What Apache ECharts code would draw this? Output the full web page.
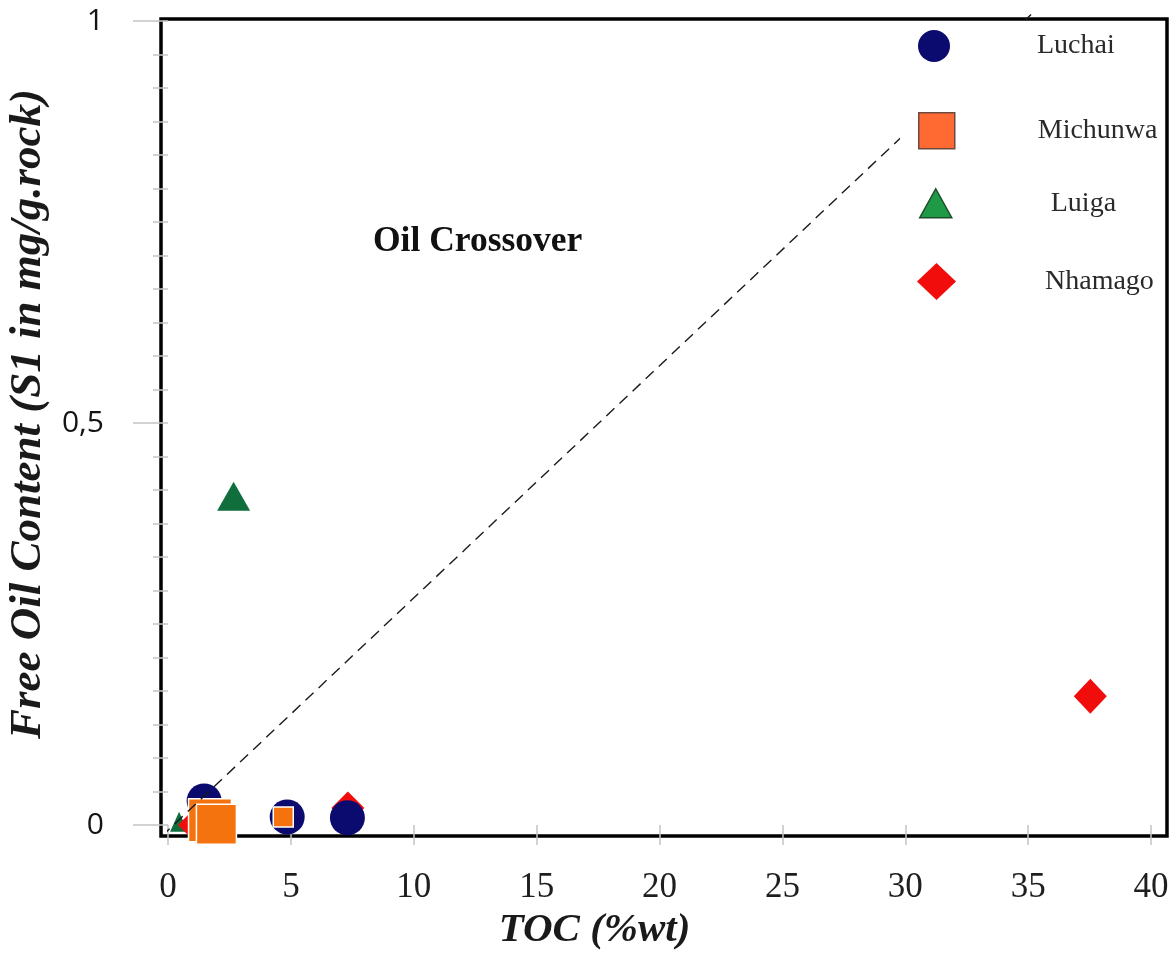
<!DOCTYPE html>
<html>
<head>
<meta charset="utf-8">
<script src="https://cdn.jsdelivr.net/npm/echarts@6/dist/echarts.min.js"></script>
<style>
html,body{margin:0;padding:0;background:#fff;}
#chart{width:1171px;height:960px;}
</style>
</head>
<body>
<div id="chart"></div>
<script>
// ---- data (TOC %wt, S1 mg/g rock) ----
const xTickValues = [0, 5, 10, 15, 20, 25, 30, 35, 40];
const yTickLabels = ['0', '0,5', '1'];
const luchai   = [[1.47, 0.030], [4.85, 0.010], [7.30, 0.009]];
const michunwa = [[1.71, 0.006], [1.97, 0.001], [4.69, 0.010]];
const luiga    = [[0.45, 0.004], [2.67, 0.409]];
const nhamago  = [[1.14, 0.000], [7.32, 0.021], [37.53, 0.160]];
const crossoverLine = [[-0.26, -0.014], [35.12, 1.008]];
const seriesNames = ['Luchai', 'Michunwa', 'Luiga', 'Nhamago'];

// ---- styles ----
const luchaiSizes = [35, 35, 35];
const michunwaSizes = [43, 40, 20];
const luigaSizes = [[18, 20], [33, 29]];
const nhamagoSizes = [36, 33, [33, 35]];

const chart = echarts.init(document.getElementById('chart'), null, {renderer: 'canvas'});

const tickGray = '#c4c4c4';
const serif = 'Liberation Serif';

function legendFor(name, icon, w, h, left, top, pad, textPad, itemStyle, bg) {
  return {
    orient: 'vertical', left: left, top: top, padding: pad,
    backgroundColor: bg ? '#fff' : 'transparent',
    itemWidth: w, itemHeight: h, selectedMode: false, z: 20,
    data: [{name: name, icon: icon, itemStyle: itemStyle}],
    textStyle: {fontFamily: serif, fontSize: 28, color: '#2a2a2a', padding: [0, 0, 0, textPad]}
  };
}

const option = {
  animation: false,
  backgroundColor: '#ffffff',
  title: {
    text: 'Oil Crossover', left: 373, top: 224, padding: 0,
    textStyle: {fontFamily: serif, fontWeight: 'bold', fontSize: 35.5, color: '#111'}
  },
  legend: [
    legendFor(seriesNames[0], 'circle', 32, 32, 900, 22, [8, 10, 8, 18], 82,
      {color: '#0b0b6f', borderWidth: 0}, true),
    legendFor(seriesNames[1], 'rect', 36, 36, 900, 70, [42, 0, 8, 18], 78,
      {color: '#ff6a33', borderColor: '#6e4a3e', borderWidth: 1.5}, true),
    legendFor(seriesNames[2], 'triangle', 32, 29, 901, 180, [8, 0, 8, 18], 94,
      {color: '#1e9a46', borderColor: '#1d4d2a', borderWidth: 1.5}, false),
    legendFor(seriesNames[3], 'diamond', 39, 37, 899, 255, [8, 0, 8, 18], 84,
      {color: '#f20d0d', borderWidth: 0}, false)
  ],
  grid: [
    {left: 161, top: 19, right: 4, bottom: 124, show: true, borderColor: '#000',
     borderWidth: 3.5, backgroundColor: 'transparent', outerBoundsMode: 'none', containLabel: false},
    {left: 168, top: 21, right: 20, bottom: 135, show: false, outerBoundsMode: 'none', containLabel: false}
  ],
  xAxis: [
    {gridIndex: 0, type: 'value', min: 0, max: 1, show: false},
    {gridIndex: 1, type: 'value', min: xTickValues[0], max: xTickValues[xTickValues.length - 1],
     interval: xTickValues[1] - xTickValues[0], position: 'bottom', offset: 12,
     axisLine: {show: false},
     axisTick: {show: true, inside: false, length: 20, lineStyle: {color: tickGray, width: 1.5}},
     splitLine: {show: false},
     axisLabel: {margin: 33, fontFamily: serif, fontSize: 35, color: '#1e1e1e'},
     name: 'TOC (%wt)', nameLocation: 'middle', nameGap: 65,
     nameTextStyle: {fontFamily: serif, fontSize: 41, fontWeight: 'bold', fontStyle: 'italic',
       color: '#1a1a1a', padding: [0, 130, 0, 0]}
    }
  ],
  yAxis: [
    {gridIndex: 0, type: 'value', min: 0, max: 1, show: false},
    {gridIndex: 1, type: 'value', min: 0, max: 1, interval: 0.5, position: 'left', offset: 9,
     axisLine: {show: false},
     axisTick: {show: true, inside: false, length: 35, lineStyle: {color: tickGray, width: 1.5}},
     minorTick: {show: true, splitNumber: 12, length: 15, lineStyle: {color: tickGray, width: 1.5}},
     splitLine: {show: false}, minorSplitLine: {show: false},
     axisLabel: {margin: 55, fontFamily: 'Open Sans', fontSize: 30, color: '#141414',
       formatter: function (v) { return yTickLabels[Math.round(v * 2)]; }},
     name: 'Free Oil Content (S1 in mg/g.rock)', nameLocation: 'middle', nameGap: 104, nameRotate: 90,
     nameTextStyle: {fontFamily: serif, fontSize: 45, fontWeight: 'bold', fontStyle: 'italic',
       color: '#1a1a1a', padding: [0, 0, 0, 18]}
    }
  ],
  series: [
    {name: seriesNames[2], type: 'scatter', xAxisIndex: 1, yAxisIndex: 1, clip: false, z: 2,
     symbol: 'triangle', data: luiga,
     symbolSize: function (v, p) { return luigaSizes[p.dataIndex]; },
     itemStyle: {color: '#0f6e3c', opacity: 1}},
    {name: seriesNames[3], type: 'scatter', xAxisIndex: 1, yAxisIndex: 1, clip: false, z: 3,
     symbol: 'diamond', data: nhamago,
     symbolSize: function (v, p) { return nhamagoSizes[p.dataIndex]; },
     itemStyle: {color: '#f20d0d', opacity: 1}},
    {name: seriesNames[0], type: 'scatter', xAxisIndex: 1, yAxisIndex: 1, clip: false, z: 4,
     symbol: 'circle', data: luchai,
     symbolSize: function (v, p) { return luchaiSizes[p.dataIndex]; },
     itemStyle: {color: '#0b0b6f', opacity: 1}},
    {name: seriesNames[1], type: 'scatter', xAxisIndex: 1, yAxisIndex: 1, clip: false, z: 5,
     symbol: 'rect', data: michunwa,
     symbolSize: function (v, p) { return michunwaSizes[p.dataIndex]; },
     itemStyle: {color: '#f5730f', borderColor: '#ffffff', borderWidth: 1.5, opacity: 1}},
    {name: 'crossover', type: 'line', xAxisIndex: 1, yAxisIndex: 1, clip: false, z: 10,
     symbol: 'none', data: crossoverLine, silent: true,
     lineStyle: {color: '#1a1a1a', width: 1.4, type: [11, 7]}}
  ]
};
chart.setOption(option);
</script>
</body>
</html>
